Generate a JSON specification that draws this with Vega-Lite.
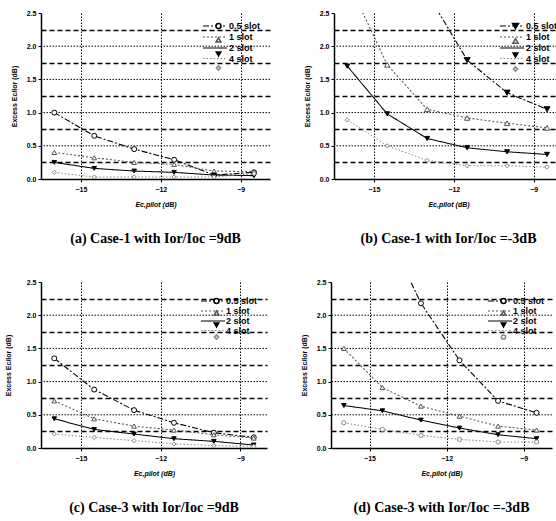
{
"$schema":"https://vega.github.io/schema/vega-lite/v6.json",
"background":"white",
"padding":{"left":4,"top":9,"right":0,"bottom":0},
"config":{"view":{"stroke":null},"font":"Liberation Sans",
"axis":{"labelFont":"Liberation Sans","labelFontSize":7,"labelFontWeight":"bold","labelColor":"#000","titleFont":"Liberation Sans","titleFontSize":7,"titleFontWeight":"bold","titleFontStyle":"italic","titleColor":"#000","domainColor":"#000","domainWidth":1.5,"tickColor":"#000","tickSize":3,"gridColor":"#000"},
"legend":{"orient":"none","padding":0,"labelFont":"Liberation Sans","labelFontSize":9,"labelFontWeight":"bold","labelColor":"#000","rowPadding":0,"labelOffset":8},
"title":{"font":"Liberation Serif","fontSize":14,"fontWeight":"bold","color":"#000","orient":"bottom","offset":25,"anchor":"middle"}
},
"datasets":{"d":[
{"p":"a","s":"0.5 slot","x":-16,"y":1.0},{"p":"a","s":"0.5 slot","x":-14.5,"y":0.65},{"p":"a","s":"0.5 slot","x":-13,"y":0.45},{"p":"a","s":"0.5 slot","x":-11.5,"y":0.29},{"p":"a","s":"0.5 slot","x":-10,"y":0.06},{"p":"a","s":"0.5 slot","x":-8.5,"y":0.1},
{"p":"a","s":"1 slot","x":-16,"y":0.4},{"p":"a","s":"1 slot","x":-14.5,"y":0.32},{"p":"a","s":"1 slot","x":-13,"y":0.25},{"p":"a","s":"1 slot","x":-11.5,"y":0.22},{"p":"a","s":"1 slot","x":-10,"y":0.12},{"p":"a","s":"1 slot","x":-8.5,"y":0.11},
{"p":"a","s":"2 slot","x":-16,"y":0.25},{"p":"a","s":"2 slot","x":-14.5,"y":0.16},{"p":"a","s":"2 slot","x":-13,"y":0.12},{"p":"a","s":"2 slot","x":-11.5,"y":0.1},{"p":"a","s":"2 slot","x":-10,"y":0.06},{"p":"a","s":"2 slot","x":-8.5,"y":0.05},
{"p":"a","s":"4 slot","x":-16,"y":0.1},{"p":"a","s":"4 slot","x":-14.5,"y":0.03},{"p":"a","s":"4 slot","x":-13,"y":0.03},{"p":"a","s":"4 slot","x":-11.5,"y":0.03},{"p":"a","s":"4 slot","x":-10,"y":0.03},{"p":"a","s":"4 slot","x":-8.5,"y":0.08},
{"p":"b","s":"0.5 slot","x":-16,"y":5.5},{"p":"b","s":"0.5 slot","x":-14.5,"y":3.9},{"p":"b","s":"0.5 slot","x":-13,"y":2.8},{"p":"b","s":"0.5 slot","x":-11.5,"y":1.79},{"p":"b","s":"0.5 slot","x":-10,"y":1.3},{"p":"b","s":"0.5 slot","x":-8.5,"y":1.05},
{"p":"b","s":"1 slot","x":-16,"y":3.0},{"p":"b","s":"1 slot","x":-14.5,"y":1.72},{"p":"b","s":"1 slot","x":-13,"y":1.05},{"p":"b","s":"1 slot","x":-11.5,"y":0.92},{"p":"b","s":"1 slot","x":-10,"y":0.84},{"p":"b","s":"1 slot","x":-8.5,"y":0.77},
{"p":"b","s":"2 slot","x":-16,"y":1.7},{"p":"b","s":"2 slot","x":-14.5,"y":0.98},{"p":"b","s":"2 slot","x":-13,"y":0.61},{"p":"b","s":"2 slot","x":-11.5,"y":0.47},{"p":"b","s":"2 slot","x":-10,"y":0.41},{"p":"b","s":"2 slot","x":-8.5,"y":0.37},
{"p":"b","s":"4 slot","x":-16,"y":0.89},{"p":"b","s":"4 slot","x":-14.5,"y":0.5},{"p":"b","s":"4 slot","x":-13,"y":0.28},{"p":"b","s":"4 slot","x":-11.5,"y":0.2},{"p":"b","s":"4 slot","x":-10,"y":0.2},{"p":"b","s":"4 slot","x":-8.5,"y":0.18},
{"p":"c","s":"0.5 slot","x":-16,"y":1.35},{"p":"c","s":"0.5 slot","x":-14.5,"y":0.88},{"p":"c","s":"0.5 slot","x":-13,"y":0.57},{"p":"c","s":"0.5 slot","x":-11.5,"y":0.38},{"p":"c","s":"0.5 slot","x":-10,"y":0.23},{"p":"c","s":"0.5 slot","x":-8.5,"y":0.16},
{"p":"c","s":"1 slot","x":-16,"y":0.71},{"p":"c","s":"1 slot","x":-14.5,"y":0.44},{"p":"c","s":"1 slot","x":-13,"y":0.33},{"p":"c","s":"1 slot","x":-11.5,"y":0.27},{"p":"c","s":"1 slot","x":-10,"y":0.2},{"p":"c","s":"1 slot","x":-8.5,"y":0.15},
{"p":"c","s":"2 slot","x":-16,"y":0.44},{"p":"c","s":"2 slot","x":-14.5,"y":0.28},{"p":"c","s":"2 slot","x":-13,"y":0.21},{"p":"c","s":"2 slot","x":-11.5,"y":0.14},{"p":"c","s":"2 slot","x":-10,"y":0.1},{"p":"c","s":"2 slot","x":-8.5,"y":0.045},
{"p":"c","s":"4 slot","x":-16,"y":0.21},{"p":"c","s":"4 slot","x":-14.5,"y":0.16},{"p":"c","s":"4 slot","x":-13,"y":0.11},{"p":"c","s":"4 slot","x":-11.5,"y":0.06},{"p":"c","s":"4 slot","x":-10,"y":0.035},{"p":"c","s":"4 slot","x":-8.5,"y":0.025},
{"p":"d","s":"0.5 slot","x":-16,"y":5.0},{"p":"d","s":"0.5 slot","x":-14.5,"y":3.4},{"p":"d","s":"0.5 slot","x":-13,"y":2.18},{"p":"d","s":"0.5 slot","x":-11.5,"y":1.32},{"p":"d","s":"0.5 slot","x":-10,"y":0.71},{"p":"d","s":"0.5 slot","x":-8.5,"y":0.53},
{"p":"d","s":"1 slot","x":-16,"y":1.5},{"p":"d","s":"1 slot","x":-14.5,"y":0.91},{"p":"d","s":"1 slot","x":-13,"y":0.63},{"p":"d","s":"1 slot","x":-11.5,"y":0.48},{"p":"d","s":"1 slot","x":-10,"y":0.33},{"p":"d","s":"1 slot","x":-8.5,"y":0.27},
{"p":"d","s":"2 slot","x":-16,"y":0.64},{"p":"d","s":"2 slot","x":-14.5,"y":0.56},{"p":"d","s":"2 slot","x":-13,"y":0.42},{"p":"d","s":"2 slot","x":-11.5,"y":0.3},{"p":"d","s":"2 slot","x":-10,"y":0.2},{"p":"d","s":"2 slot","x":-8.5,"y":0.14},
{"p":"d","s":"4 slot","x":-16,"y":0.38},{"p":"d","s":"4 slot","x":-14.5,"y":0.28},{"p":"d","s":"4 slot","x":-13,"y":0.19},{"p":"d","s":"4 slot","x":-11.5,"y":0.13},{"p":"d","s":"4 slot","x":-10,"y":0.09},{"p":"d","s":"4 slot","x":-8.5,"y":0.09}
],
"lv":[{"g":0.5},{"g":1},{"g":1.5},{"g":2}]},
"spacing":32,
"resolve":{"scale":{"color":"independent","strokeDash":"independent","strokeWidth":"independent","shape":"independent","stroke":"independent","fill":"independent","size":"independent"},"legend":{"color":"independent","strokeDash":"independent","strokeWidth":"independent","shape":"independent","stroke":"independent","fill":"independent","size":"independent"}},
"vconcat":[
{"spacing":32,
"resolve":{"scale":{"color":"independent","strokeDash":"independent","strokeWidth":"independent","shape":"independent","stroke":"independent","fill":"independent","size":"independent"},"legend":{"color":"independent","strokeDash":"independent","strokeWidth":"independent","shape":"independent","stroke":"independent","fill":"independent","size":"independent"}},
"hconcat":[
{"width":229,"height":166,
"title":{"text":"(a) Case-1 with Ior/Ioc =9dB"},
"resolve":{"axis":{"y":"independent"}},
"layer":[
{"data":{"name":"lv"},"mark":{"type":"rule","strokeDash":[1.5,1.5],"strokeWidth":1,"color":"#000"},"encoding":{
"y":{"field":"g","type":"quantitative","scale":{"domain":[0,2.5],"nice":false},"axis":null}}},
{"data":{"name":"d"},"transform":[{"filter":"false"}],"mark":{"type":"point"},"encoding":{
"y":{"field":"y","type":"quantitative","scale":{"domain":[0,2.5],"nice":false},"axis":{"orient":"left","title":null,"values":[0.25,0.75,1.25,1.75,2.25],"grid":true,"gridDash":[5,3],"gridWidth":1.3,"labels":false,"ticks":false,"domain":false}}}},
{"data":{"name":"d"},"transform":[{"filter":"datum.p==='a'"}],"mark":{"type":"line","clip":true},"encoding":{
"x":{"field":"x","type":"quantitative","scale":{"domain":[-16.5,-7.9],"nice":false,"zero":false},"axis":{"title":"Ec,pilot (dB)","values":[-15,-12,-9],"format":"d","grid":true,"gridDash":[1.5,1.5],"gridWidth":1,"titlePadding":8,"labelPadding":3}},
"y":{"field":"y","type":"quantitative","scale":{"domain":[0,2.5],"nice":false},"axis":{"orient":"left","title":"Excess Ec/Ior (dB)","titleFontStyle":"normal","titlePadding":9,"values":[0,0.5,1,1.5,2,2.5],"format":".1f","grid":false}},
"color":{"field":"s","type":"nominal","title":null,"legend":{"legendX":168,"legendY":7,"symbolType":"M-2.4,0H2.4","symbolSize":100},"scale":{"domain":["0.5 slot","1 slot","2 slot","4 slot"],"range":["#000000","#555555","#000000","#888888"]}},
"strokeDash":{"field":"s","type":"nominal","title":null,"legend":{"legendX":168,"legendY":7,"symbolType":"M-2.4,0H2.4","symbolSize":100},"scale":{"domain":["0.5 slot","1 slot","2 slot","4 slot"],"range":[[6,2,2,2],[2,2],[1,0],[1.5,2]]}},
"strokeWidth":{"field":"s","type":"nominal","title":null,"legend":{"legendX":168,"legendY":7,"symbolType":"M-2.4,0H2.4","symbolSize":100},"scale":{"domain":["0.5 slot","1 slot","2 slot","4 slot"],"range":[1.1,1,2,1]}}}},
{"data":{"name":"d"},"transform":[{"filter":"datum.p==='a'"}],"mark":{"type":"point","clip":true,"opacity":1,"strokeWidth":1},"encoding":{
"x":{"field":"x","type":"quantitative","scale":{"domain":[-16.5,-7.9],"nice":false,"zero":false},"axis":{"title":"Ec,pilot (dB)","values":[-15,-12,-9],"format":"d","grid":true,"gridDash":[1.5,1.5],"gridWidth":1,"titlePadding":8,"labelPadding":3}},
"y":{"field":"y","type":"quantitative","scale":{"domain":[0,2.5],"nice":false},"axis":null},
"shape":{"field":"s","type":"nominal","title":null,"legend":{"legendX":173,"legendY":8.5,"labelExpr":"''","rowPadding":3},"scale":{"range":["circle","triangle-up","triangle-down","diamond"]}},
"stroke":{"field":"s","type":"nominal","title":null,"legend":{"legendX":173,"legendY":8.5,"labelExpr":"''","rowPadding":3},"scale":{"range":["#000000","#555555","#000000","#888888"]}},
"fill":{"field":"s","type":"nominal","title":null,"legend":{"legendX":173,"legendY":8.5,"labelExpr":"''","rowPadding":3},"scale":{"range":["#ffffff","#ffffff","#000000","#ffffff"]}},
"size":{"field":"s","type":"nominal","title":null,"legend":{"legendX":173,"legendY":8.5,"labelExpr":"''","rowPadding":3},"scale":{"range":[25,18,40,15]}}}}
]},
{"width":229,"height":166,
"title":{"text":"(b) Case-1 with Ior/Ioc =-3dB"},
"resolve":{"axis":{"y":"independent"}},
"layer":[
{"data":{"name":"lv"},"mark":{"type":"rule","strokeDash":[1.5,1.5],"strokeWidth":1,"color":"#000"},"encoding":{
"y":{"field":"g","type":"quantitative","scale":{"domain":[0,2.5],"nice":false},"axis":null}}},
{"data":{"name":"d"},"transform":[{"filter":"false"}],"mark":{"type":"point"},"encoding":{
"y":{"field":"y","type":"quantitative","scale":{"domain":[0,2.5],"nice":false},"axis":{"orient":"left","title":null,"values":[0.25,0.75,1.25,1.75,2.25],"grid":true,"gridDash":[5,3],"gridWidth":1.3,"labels":false,"ticks":false,"domain":false}}}},
{"data":{"name":"d"},"transform":[{"filter":"datum.p==='b'"}],"mark":{"type":"line","clip":true},"encoding":{
"x":{"field":"x","type":"quantitative","scale":{"domain":[-16.5,-7.9],"nice":false,"zero":false},"axis":{"title":"Ec,pilot (dB)","values":[-15,-12,-9],"format":"d","grid":true,"gridDash":[1.5,1.5],"gridWidth":1,"titlePadding":8,"labelPadding":3}},
"y":{"field":"y","type":"quantitative","scale":{"domain":[0,2.5],"nice":false},"axis":{"orient":"left","title":"Excess Ec/Ior (dB)","titleFontStyle":"normal","titlePadding":9,"values":[0,0.5,1,1.5,2,2.5],"format":".1f","grid":false}},
"color":{"field":"s","type":"nominal","title":null,"legend":{"legendX":172,"legendY":7,"symbolType":"M-2.4,0H2.4","symbolSize":100},"scale":{"domain":["0.5 slot","1 slot","2 slot","4 slot"],"range":["#000000","#555555","#000000","#888888"]}},
"strokeDash":{"field":"s","type":"nominal","title":null,"legend":{"legendX":172,"legendY":7,"symbolType":"M-2.4,0H2.4","symbolSize":100},"scale":{"domain":["0.5 slot","1 slot","2 slot","4 slot"],"range":[[6,2,2,2],[2,2],[1,0],[1.5,2]]}},
"strokeWidth":{"field":"s","type":"nominal","title":null,"legend":{"legendX":172,"legendY":7,"symbolType":"M-2.4,0H2.4","symbolSize":100},"scale":{"domain":["0.5 slot","1 slot","2 slot","4 slot"],"range":[1.1,1,2,1]}}}},
{"data":{"name":"d"},"transform":[{"filter":"datum.p==='b'"}],"mark":{"type":"point","clip":true,"opacity":1,"strokeWidth":1},"encoding":{
"x":{"field":"x","type":"quantitative","scale":{"domain":[-16.5,-7.9],"nice":false,"zero":false},"axis":{"title":"Ec,pilot (dB)","values":[-15,-12,-9],"format":"d","grid":true,"gridDash":[1.5,1.5],"gridWidth":1,"titlePadding":8,"labelPadding":3}},
"y":{"field":"y","type":"quantitative","scale":{"domain":[0,2.5],"nice":false},"axis":null},
"shape":{"field":"s","type":"nominal","title":null,"legend":{"legendX":177,"legendY":8.5,"labelExpr":"''","rowPadding":3},"scale":{"range":["triangle-down","triangle-up","triangle-down","diamond"]}},
"stroke":{"field":"s","type":"nominal","title":null,"legend":{"legendX":177,"legendY":8.5,"labelExpr":"''","rowPadding":3},"scale":{"range":["#000000","#555555","#000000","#888888"]}},
"fill":{"field":"s","type":"nominal","title":null,"legend":{"legendX":177,"legendY":8.5,"labelExpr":"''","rowPadding":3},"scale":{"range":["#000000","#ffffff","#000000","#ffffff"]}},
"size":{"field":"s","type":"nominal","title":null,"legend":{"legendX":177,"legendY":8.5,"labelExpr":"''","rowPadding":3},"scale":{"range":[35,18,40,15]}}}}
]}
]},
{"spacing":32,
"resolve":{"scale":{"color":"independent","strokeDash":"independent","strokeWidth":"independent","shape":"independent","stroke":"independent","fill":"independent","size":"independent"},"legend":{"color":"independent","strokeDash":"independent","strokeWidth":"independent","shape":"independent","stroke":"independent","fill":"independent","size":"independent"}},
"hconcat":[
{"width":226,"height":166,
"title":{"text":"(c) Case-3 with Ior/Ioc =9dB"},
"resolve":{"axis":{"y":"independent"}},
"layer":[
{"data":{"name":"lv"},"mark":{"type":"rule","strokeDash":[1.5,1.5],"strokeWidth":1,"color":"#000"},"encoding":{
"y":{"field":"g","type":"quantitative","scale":{"domain":[0,2.5],"nice":false},"axis":null}}},
{"data":{"name":"d"},"transform":[{"filter":"false"}],"mark":{"type":"point"},"encoding":{
"y":{"field":"y","type":"quantitative","scale":{"domain":[0,2.5],"nice":false},"axis":{"orient":"left","title":null,"values":[0.25,0.75,1.25,1.75,2.25],"grid":true,"gridDash":[5,3],"gridWidth":1.3,"labels":false,"ticks":false,"domain":false}}}},
{"data":{"name":"d"},"transform":[{"filter":"datum.p==='c'"}],"mark":{"type":"line","clip":true},"encoding":{
"x":{"field":"x","type":"quantitative","scale":{"domain":[-16.5,-8],"nice":false,"zero":false},"axis":{"title":"Ec,pilot (dB)","values":[-15,-12,-9],"format":"d","grid":true,"gridDash":[1.5,1.5],"gridWidth":1,"titlePadding":8,"labelPadding":3}},
"y":{"field":"y","type":"quantitative","scale":{"domain":[0,2.5],"nice":false},"axis":{"orient":"left","title":"Excess Ec/Ior (dB)","titleFontStyle":"normal","titlePadding":15,"values":[0,0.5,1,1.5,2,2.5],"format":".1f","grid":false}},
"color":{"field":"s","type":"nominal","title":null,"legend":{"legendX":167,"legendY":14,"symbolType":"M-3,0H3","symbolSize":64},"scale":{"domain":["0.5 slot","1 slot","2 slot","4 slot"],"range":["#000000","#555555","#000000","#888888"]}},
"strokeDash":{"field":"s","type":"nominal","title":null,"legend":{"legendX":167,"legendY":14,"symbolType":"M-3,0H3","symbolSize":64},"scale":{"domain":["0.5 slot","1 slot","2 slot","4 slot"],"range":[[6,2,2,2],[2,2],[1,0],[1.5,2]]}},
"strokeWidth":{"field":"s","type":"nominal","title":null,"legend":{"legendX":167,"legendY":14,"symbolType":"M-3,0H3","symbolSize":64},"scale":{"domain":["0.5 slot","1 slot","2 slot","4 slot"],"range":[1.1,1,2,1]}}}},
{"data":{"name":"d"},"transform":[{"filter":"datum.p==='c'"}],"mark":{"type":"point","clip":true,"opacity":1,"strokeWidth":1},"encoding":{
"x":{"field":"x","type":"quantitative","scale":{"domain":[-16.5,-8],"nice":false,"zero":false},"axis":{"title":"Ec,pilot (dB)","values":[-15,-12,-9],"format":"d","grid":true,"gridDash":[1.5,1.5],"gridWidth":1,"titlePadding":8,"labelPadding":3}},
"y":{"field":"y","type":"quantitative","scale":{"domain":[0,2.5],"nice":false},"axis":null},
"shape":{"field":"s","type":"nominal","title":null,"legend":{"legendX":171,"legendY":14.5,"labelExpr":"''","rowPadding":1},"scale":{"range":["circle","triangle-up","triangle-down","diamond"]}},
"stroke":{"field":"s","type":"nominal","title":null,"legend":{"legendX":171,"legendY":14.5,"labelExpr":"''","rowPadding":1},"scale":{"range":["#000000","#555555","#000000","#888888"]}},
"fill":{"field":"s","type":"nominal","title":null,"legend":{"legendX":171,"legendY":14.5,"labelExpr":"''","rowPadding":1},"scale":{"range":["#ffffff","#ffffff","#000000","#ffffff"]}},
"size":{"field":"s","type":"nominal","title":null,"legend":{"legendX":171,"legendY":14.5,"labelExpr":"''","rowPadding":1},"scale":{"range":[25,18,40,15]}}}}
]},
{"width":221,"height":166,
"title":{"text":"(d) Case-3 with Ior/Ioc =-3dB"},
"resolve":{"axis":{"y":"independent"}},
"layer":[
{"data":{"name":"lv"},"mark":{"type":"rule","strokeDash":[1.5,1.5],"strokeWidth":1,"color":"#000"},"encoding":{
"y":{"field":"g","type":"quantitative","scale":{"domain":[0,2.5],"nice":false},"axis":null}}},
{"data":{"name":"d"},"transform":[{"filter":"false"}],"mark":{"type":"point"},"encoding":{
"y":{"field":"y","type":"quantitative","scale":{"domain":[0,2.5],"nice":false},"axis":{"orient":"left","title":null,"values":[0.25,0.75,1.25,1.75,2.25],"grid":true,"gridDash":[5,3],"gridWidth":1.3,"labels":false,"ticks":false,"domain":false}}}},
{"data":{"name":"d"},"transform":[{"filter":"datum.p==='d'"}],"mark":{"type":"line","clip":true},"encoding":{
"x":{"field":"x","type":"quantitative","scale":{"domain":[-16.5,-7.9],"nice":false,"zero":false},"axis":{"title":"Ec,pilot (dB)","values":[-15,-12,-9],"format":"d","grid":true,"gridDash":[1.5,1.5],"gridWidth":1,"titlePadding":8,"labelPadding":3}},
"y":{"field":"y","type":"quantitative","scale":{"domain":[0,2.5],"nice":false},"axis":{"orient":"left","title":"Excess Ec/Ior (dB)","titleFontStyle":"normal","titlePadding":9,"values":[0,0.5,1,1.5,2,2.5],"format":".1f","grid":false}},
"color":{"field":"s","type":"nominal","title":null,"legend":{"legendX":164,"legendY":14,"symbolType":"M-3,0H3","symbolSize":64},"scale":{"domain":["0.5 slot","1 slot","2 slot","4 slot"],"range":["#000000","#555555","#000000","#888888"]}},
"strokeDash":{"field":"s","type":"nominal","title":null,"legend":{"legendX":164,"legendY":14,"symbolType":"M-3,0H3","symbolSize":64},"scale":{"domain":["0.5 slot","1 slot","2 slot","4 slot"],"range":[[6,2,2,2],[2,2],[1,0],[1.5,2]]}},
"strokeWidth":{"field":"s","type":"nominal","title":null,"legend":{"legendX":164,"legendY":14,"symbolType":"M-3,0H3","symbolSize":64},"scale":{"domain":["0.5 slot","1 slot","2 slot","4 slot"],"range":[1.1,1,2,1]}}}},
{"data":{"name":"d"},"transform":[{"filter":"datum.p==='d'"}],"mark":{"type":"point","clip":true,"opacity":1,"strokeWidth":1},"encoding":{
"x":{"field":"x","type":"quantitative","scale":{"domain":[-16.5,-7.9],"nice":false,"zero":false},"axis":{"title":"Ec,pilot (dB)","values":[-15,-12,-9],"format":"d","grid":true,"gridDash":[1.5,1.5],"gridWidth":1,"titlePadding":8,"labelPadding":3}},
"y":{"field":"y","type":"quantitative","scale":{"domain":[0,2.5],"nice":false},"axis":null},
"shape":{"field":"s","type":"nominal","title":null,"legend":{"legendX":168,"legendY":14.5,"labelExpr":"''","rowPadding":1},"scale":{"range":["circle","triangle-up","triangle-down","circle"]}},
"stroke":{"field":"s","type":"nominal","title":null,"legend":{"legendX":168,"legendY":14.5,"labelExpr":"''","rowPadding":1},"scale":{"range":["#000000","#555555","#000000","#888888"]}},
"fill":{"field":"s","type":"nominal","title":null,"legend":{"legendX":168,"legendY":14.5,"labelExpr":"''","rowPadding":1},"scale":{"range":["#ffffff","#ffffff","#000000","#ffffff"]}},
"size":{"field":"s","type":"nominal","title":null,"legend":{"legendX":168,"legendY":14.5,"labelExpr":"''","rowPadding":1},"scale":{"range":[25,18,40,15]}}}}
]}
]}
]
}
